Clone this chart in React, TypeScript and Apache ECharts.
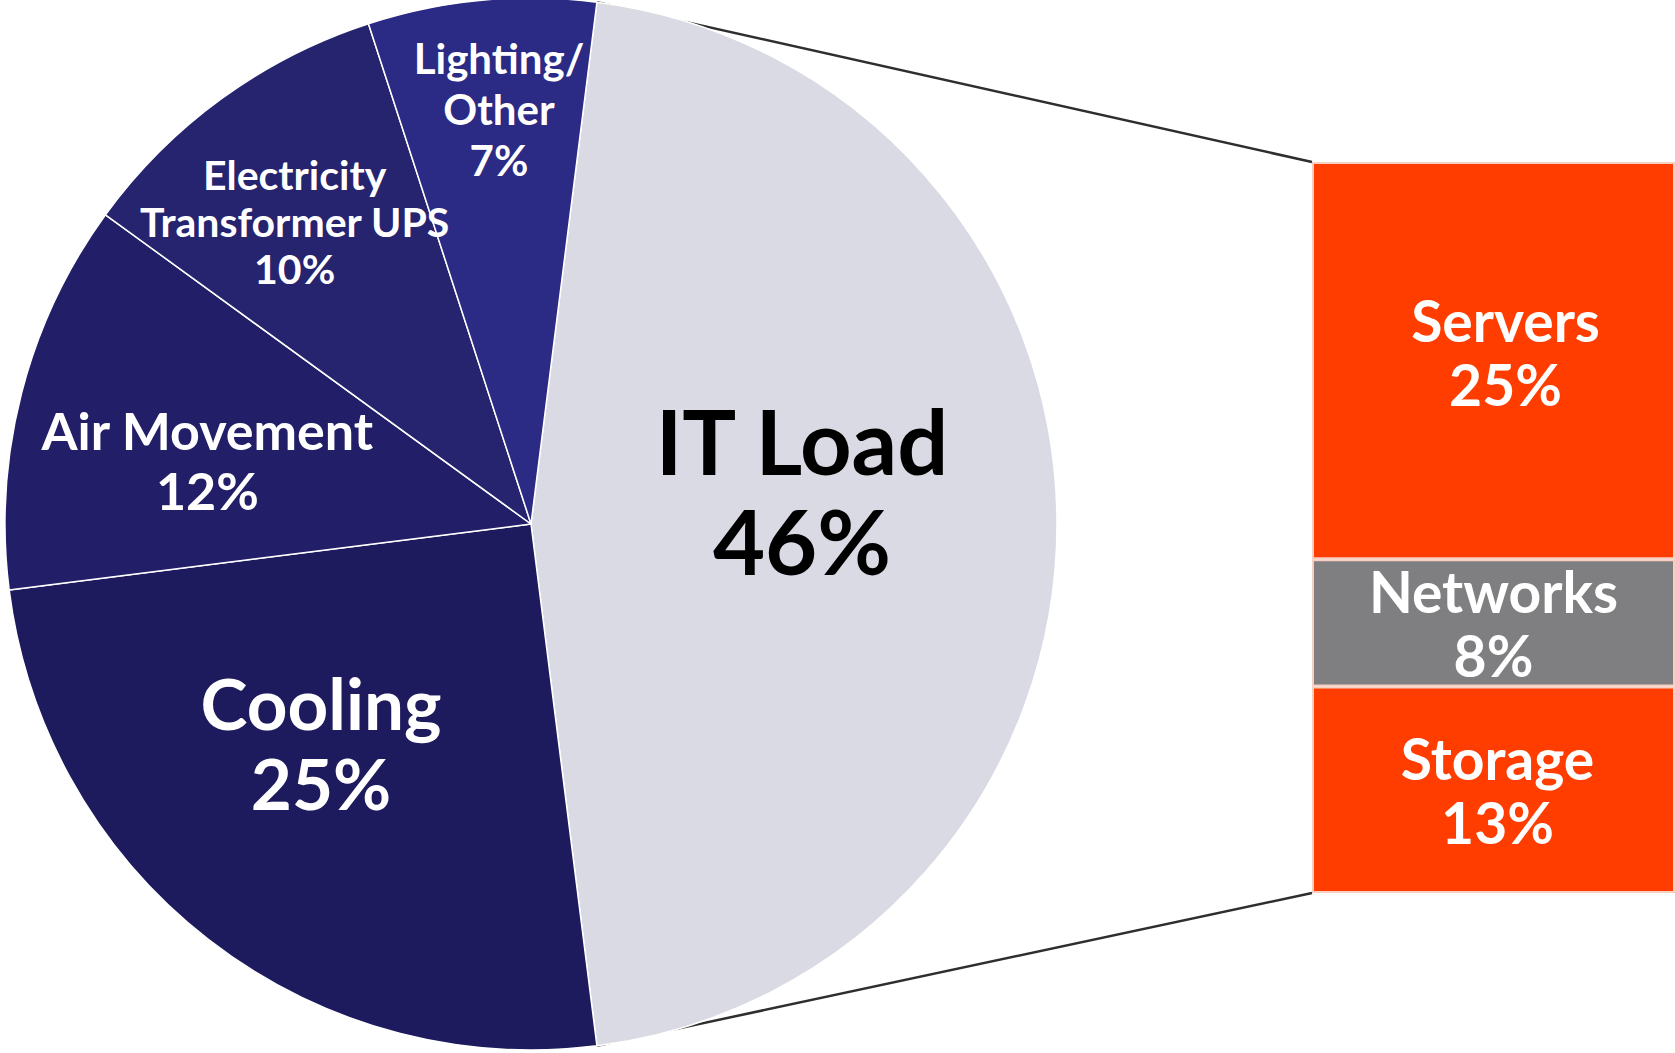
import React, { useEffect, useRef } from "react";
import * as echarts from "echarts";

// ---- data ----
const pieNames = ["IT Load", "Cooling", "Air Movement", "Electricity\nTransformer UPS", "Lighting/\nOther"];
const pieValues = [46, 25, 12, 10, 7];

const barNames = ["Storage", "Networks", "Servers"];
const barValues = [13, 8, 25];
const barCategories = [""];

// ---- styles / layout ----
const W = 1675;
const H = 1053;
const PIE_CX = 531;
const PIE_CY = 524;
const PIE_R = 526;
const START_ANGLE = 82.8;
const GRID_LEFT = 1312;
const GRID_TOP = 162;
const GRID_BOTTOM_Y = 893;

const pieColors = ["#d9dae3", "#1e1a5e", "#221e67", "#26236f", "#2b2a84"];
const pieLabelColors = ["#000000", "#ffffff", "#ffffff", "#ffffff", "#ffffff"];
const pieFontSizes = [90, 71, 52, 41, 42];
const pieLineHeights = [100, 80, 60, 47, 51];
const pieLabelShift = [
  [5, -34],
  [-47, 8],
  [-66, 2],
  [-80, -87],
  [-7, -150],
];
const barColors = ["#ff3d00", "#7f7e80", "#ff3d00"];
const barLabelShift = [
  [4, 0],
  [0, 0],
  [12, -9],
];
const FONT = "Lato, 'Open Sans', sans-serif";

export default function App() {
  const ref = useRef<HTMLDivElement>(null);

  useEffect(() => {
    if (!ref.current) return;
    const chart = echarts.init(ref.current, undefined, { renderer: "svg" });

    const total = pieValues.reduce((a, b) => a + b, 0);
    const itSpan = (pieValues[0] / total) * 360;
    const a0 = (START_ANGLE * Math.PI) / 180;
    const a1 = ((START_ANGLE - itSpan) * Math.PI) / 180;
    const topPt = [PIE_CX + PIE_R * Math.cos(a0), PIE_CY - PIE_R * Math.sin(a0)];
    const botPt = [PIE_CX + PIE_R * Math.cos(a1), PIE_CY - PIE_R * Math.sin(a1)];

    const pieData = pieNames.map((n, i) => ({
      name: n,
      value: pieValues[i],
      itemStyle: { color: pieColors[i] },
      label: {
        color: pieLabelColors[i],
        fontSize: pieFontSizes[i],
        lineHeight: pieLineHeights[i],
      },
    }));

    const barSeries = barNames.map((n, i) => ({
      name: n,
      type: "bar",
      stack: "it",
      data: [barValues[i]],
      barWidth: "100%",
      barCategoryGap: 0,
      itemStyle: { color: barColors[i], borderColor: "#f6cfc2", borderWidth: 2 },
      label: {
        show: true,
        position: "inside",
        formatter: "{a}\n{c}%",
        color: "#ffffff",
        fontFamily: FONT,
        fontWeight: "bold",
        fontSize: 57,
        lineHeight: 64,
      },
      labelLayout: () => ({ dx: barLabelShift[i][0], dy: barLabelShift[i][1] }),
      silent: true,
    }));

    chart.setOption({
      animation: false,
      backgroundColor: "#ffffff",
      grid: {
        left: GRID_LEFT,
        right: 0,
        top: GRID_TOP,
        bottom: H - GRID_BOTTOM_Y,
        containLabel: false,
      },
      xAxis: { type: "category", data: barCategories, show: false },
      yAxis: { type: "value", min: 0, max: pieValues[0], show: false, splitLine: { show: false } },
      graphic: [
        {
          type: "line",
          shape: { x1: topPt[0], y1: topPt[1], x2: GRID_LEFT, y2: GRID_TOP },
          style: { stroke: "#2e2e2e", lineWidth: 2.5 },
          z: 0,
        },
        {
          type: "line",
          shape: { x1: botPt[0], y1: botPt[1], x2: GRID_LEFT, y2: GRID_BOTTOM_Y },
          style: { stroke: "#2e2e2e", lineWidth: 2.5 },
          z: 0,
        },
      ],
      series: [
        {
          type: "pie",
          center: [PIE_CX, PIE_CY],
          radius: PIE_R,
          startAngle: START_ANGLE,
          clockwise: true,
          avoidLabelOverlap: false,
          silent: true,
          data: pieData,
          itemStyle: { borderColor: "#ffffff", borderWidth: 1.5 },
          label: {
            show: true,
            position: "inside",
            formatter: "{b}\n{c}%",
            fontFamily: FONT,
            fontWeight: "bold",
          },
          labelLine: { show: false },
          labelLayout: (params: any) => {
            const s = pieLabelShift[params.dataIndex] || [0, 0];
            return { dx: s[0], dy: s[1] };
          },
        },
        ...barSeries,
      ],
    });

    return () => chart.dispose();
  }, []);

  return (
    <div
      ref={ref}
      style={{ position: "absolute", left: 0, top: 0, width: W, height: H }}
    />
  );
}
